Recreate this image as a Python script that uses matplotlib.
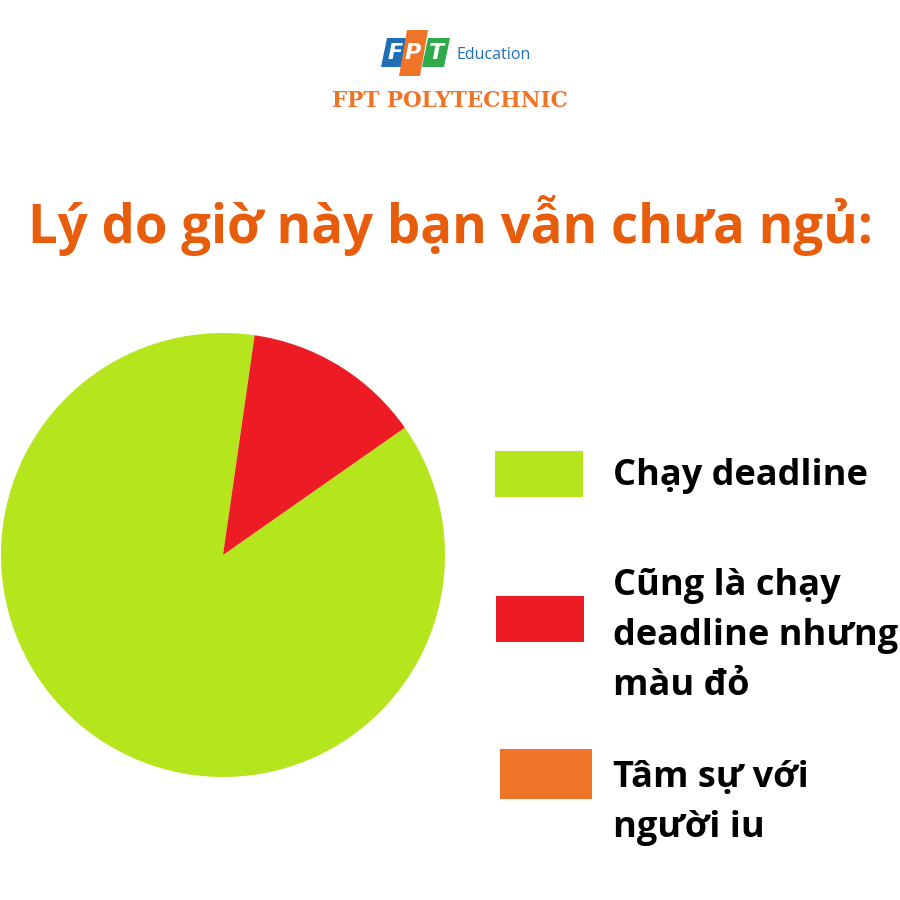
import matplotlib
matplotlib.use("Agg")
import matplotlib.pyplot as plt
from matplotlib.patches import Rectangle, Polygon

# ---- data ----
categories = ["Chạy deadline", "Cũng là chạy\ndeadline nhưng\nmàu đỏ", "Tâm sự với\nngười iu"]
values = [87, 13, 0]
colors = ["#B5E61D", "#ED1C24", "#F07427"]
title = "Lý do giờ này bạn vẫn chưa ngủ:"

W = H = 900
fig = plt.figure(figsize=(9, 9), dpi=100)
fig.patch.set_facecolor("white")

def fx(x):
    return x / W

def fy(y):
    return 1 - y / H

# ---- pie ----
cx, cy, r = 223, 555, 222
ax = fig.add_axes([fx(cx - r), fy(cy + r), 2 * r / W, 2 * r / H])
ax.pie(values, colors=colors, startangle=35, counterclock=False,
       radius=1, wedgeprops=dict(linewidth=0))
ax.set_xlim(-1, 1)
ax.set_ylim(-1, 1)
ax.set_aspect("equal")
ax.axis("off")

# ---- title ----
fig.text(fx(28), fy(243), title, fontsize=38, fontweight="bold",
         family=["Open Sans", "DejaVu Sans"], color="#E85D0C",
         ha="left", va="baseline")

# ---- logo ----
def para(x0, x1, ytop, ybot, col, slant=6):
    pts = [(x0, ybot), (x1 - slant, ybot), (x1, ytop), (x0 + slant, ytop)]
    return Polygon([(fx(a), fy(b)) for a, b in pts], closed=True,
                   transform=fig.transFigure, facecolor=col, edgecolor="none")

fig.patches.append(para(381, 410, 38, 67, "#1F6FB8"))
fig.patches.append(para(399, 428, 30, 76, "#F07427", slant=8))
fig.patches.append(para(422, 450, 38, 67, "#2DAA4A"))
for lx, letter in zip([395, 413, 436], ["F", "P", "T"]):
    fig.text(fx(lx), fy(53), letter, fontsize=16, fontweight="bold",
             style="italic", family="DejaVu Sans", color="white",
             ha="center", va="center")
fig.text(fx(457), fy(55), "Education", fontsize=11.5,
         family="Open Sans", color="#1F6FB8", ha="left", va="center")
fig.text(fx(449.5), fy(107), "FPT POLYTECHNIC", fontsize=15.5,
         fontweight="bold", family="DejaVu Serif", color="#F07427",
         ha="center", va="baseline")

# ---- legend ----
boxes = [(495, 451, 88, 46), (496, 596, 88, 46), (500, 749, 92, 50)]
baselines = [485, 595, 787]
line_gap = 50
for (bx, by, bw, bh), col, lab, base in zip(boxes, colors, categories, baselines):
    fig.patches.append(Rectangle((fx(bx), fy(by + bh)), bw / W, bh / H,
                                 transform=fig.transFigure,
                                 facecolor=col, edgecolor="none"))
    for i, line in enumerate(lab.split("\n")):
        fig.text(fx(613), fy(base + i * line_gap), line, fontsize=26,
                 fontweight="bold", family=["Open Sans", "DejaVu Sans"],
                 color="black", ha="left", va="baseline")

fig.savefig("out.png", dpi=100, facecolor="white")
